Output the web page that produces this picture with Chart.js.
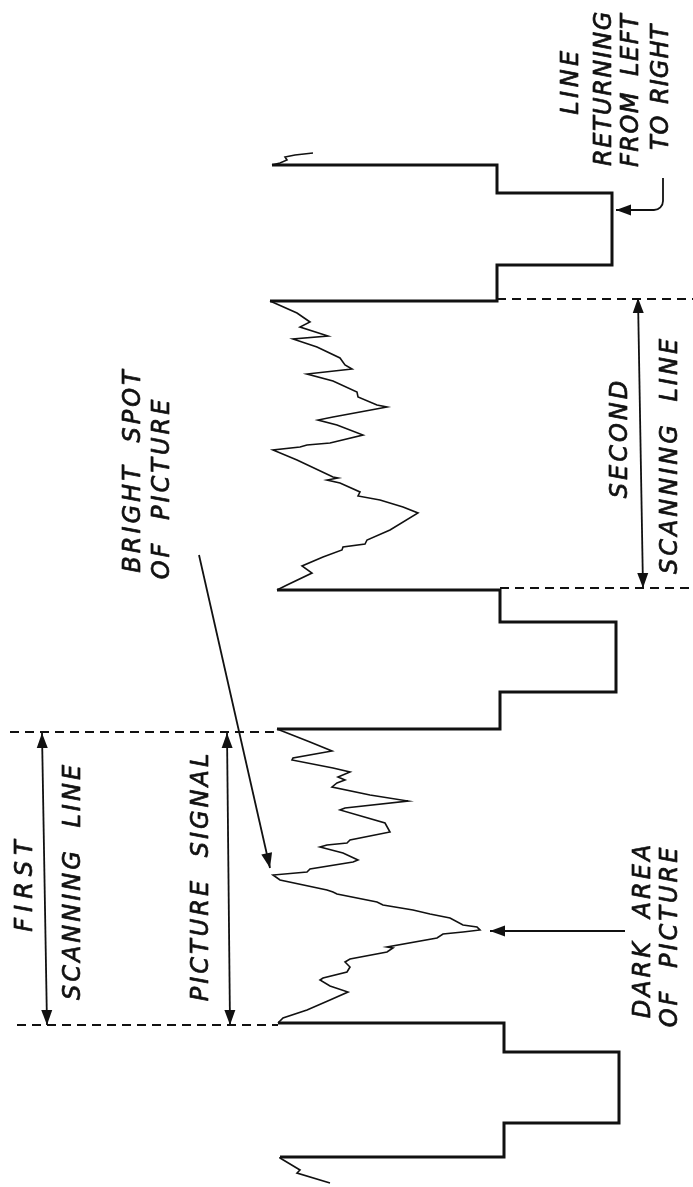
<!DOCTYPE html>
<html>
<head>
<meta charset="utf-8">
<title>Scanning line signal</title>
<script src="https://cdn.jsdelivr.net/npm/chart.js@4.4.1/dist/chart.umd.min.js"></script>
<style>
  html, body { margin: 0; padding: 0; background: #fff; overflow: hidden; }
  canvas { display: block; }
</style>
</head>
<body>
<canvas id="signal" width="693" height="1187"></canvas>
<script>
// time runs up the page, signal level runs across it (sync pulses to the right)
const leadInTime  = [4, 14, 17, 29, 30];
const leadInLevel = [330, 297, 300, 280, 280];

// picture signal of the first scanning line
const line1Time  = [164, 169, 177, 187, 195, 201, 207, 209, 215, 220, 225, 228, 235, 239, 240, 249, 253, 255, 257, 260,
                    262, 269, 273, 277, 282, 285, 293, 295, 297, 307, 312, 315, 318, 325, 327, 334, 340, 342, 344, 347,
                    355, 364, 377, 379, 386, 392, 400, 404, 407, 410, 415, 419, 427, 429, 436, 445, 458];
const line1Level = [278, 283, 307, 330, 348, 330, 320, 323, 347, 350, 345, 350, 387, 393, 387, 437, 443, 463, 480, 477,
                    463, 450, 430, 413, 383, 377, 337, 333, 327, 280, 273, 307, 310, 353, 358, 343, 320, 327, 347, 350,
                    390, 385, 340, 345, 408, 370, 332, 337, 345, 338, 350, 333, 292, 293, 332, 310, 277];

// picture signal of the second scanning line
const line2Time  = [597, 602, 614, 621, 630, 637, 640, 643, 647, 657, 674, 680, 687, 691, 695, 704, 707, 709, 710, 727,
                    737, 740, 742, 744, 752, 762, 767, 770, 780, 782, 790, 795, 806, 813, 818, 822, 829, 840, 848, 851,
                    860, 865, 874, 886];
const line2Level = [277, 287, 312, 302, 323, 342, 343, 365, 367, 390, 418, 403, 380, 358, 360, 340, 327, 338, 333, 297,
                    273, 300, 307, 330, 363, 337, 318, 333, 387, 377, 358, 357, 333, 307, 352, 345, 340, 317, 293, 328,
                    300, 310, 297, 270];

const tailTime  = [1022, 1024, 1027, 1030, 1032, 1034];
const tailLevel = [272, 280, 287, 285, 295, 313];

// blanking + sync pulses between the lines
const pulseStart     = [30, 458, 886];
const syncStart      = [64, 495, 922];
const syncEnd        = [135, 565, 994];
const pulseEnd       = [164, 597, 1022];
const entryLevel     = [280, 277, 270];
const exitLevel      = [278, 277, 272];
const pedestalLevel  = [504, 500, 497];
const syncTipLevel   = [619, 616, 612];

const ink = '#111';

function zip(times, levels) {
  return times.map((t, i) => ({ x: levels[i], y: t }));
}

function pulsePoints(i) {
  return [
    { x: entryLevel[i], y: pulseStart[i] },
    { x: pedestalLevel[i], y: pulseStart[i] },
    { x: pedestalLevel[i], y: syncStart[i] },
    { x: syncTipLevel[i], y: syncStart[i] },
    { x: syncTipLevel[i], y: syncEnd[i] },
    { x: pedestalLevel[i], y: syncEnd[i] },
    { x: pedestalLevel[i], y: pulseEnd[i] },
    { x: exitLevel[i], y: pulseEnd[i] }
  ];
}

function thin(points) {
  return { data: points, showLine: true, borderColor: ink, borderWidth: 1.6, pointRadius: 0 };
}
function thick(points) {
  return { data: points, showLine: true, borderColor: ink, borderWidth: 3, pointRadius: 0 };
}

// annotations, in the same units as the data (level, time)
const dashedLines = [
  { t: 455, from: 10, to: 277 },
  { t: 162, from: 17, to: 278 },
  { t: 599, from: 500, to: 693 },
  { t: 888, from: 497, to: 693 }
];
const spanArrows = [
  { a: [42, 454], b: [47, 162] },
  { a: [227, 454], b: [230, 162] },
  { a: [638, 889], b: [643, 599] }
];
const pointers = [
  { path: [[199, 632], [270, 319]] },
  { path: [[625, 256], [490, 256]] },
  { path: [[663, 1009], [663, 977], [616, 977]], round: 9 }
];
const labels = [
  { text: 'FIRST', level: 23, t: 304, spacing: 6 },
  { text: 'SCANNING LINE', level: 71, t: 306 },
  { text: 'PICTURE SIGNAL', level: 199, t: 311 },
  { text: 'BRIGHT SPOT', level: 131, t: 717 },
  { text: 'OF PICTURE', level: 160, t: 699 },
  { text: 'DARK AREA', level: 641, t: 257 },
  { text: 'OF PICTURE', level: 668, t: 251 },
  { text: 'SECOND', level: 618, t: 749 },
  { text: 'SCANNING LINE', level: 668, t: 732 },
  { text: 'LINE', level: 569, t: 1106, spacing: 3.5 },
  { text: 'RETURNING', level: 602, t: 1099, spacing: 1.5 },
  { text: 'FROM LEFT', level: 629, t: 1097, spacing: 1.5, words: 6 },
  { text: 'TO RIGHT', level: 659, t: 1100, spacing: 1, words: 2 }
];

function head(ctx, fx, fy, tx, ty) {
  const ang = Math.atan2(ty - fy, tx - fx);
  const len = 15, half = 5.5;
  const bx = tx - len * Math.cos(ang), by = ty - len * Math.sin(ang);
  ctx.beginPath();
  ctx.moveTo(tx, ty);
  ctx.lineTo(bx - half * Math.sin(ang), by + half * Math.cos(ang));
  ctx.lineTo(bx + half * Math.sin(ang), by - half * Math.cos(ang));
  ctx.closePath();
  ctx.fill();
}

const annotate = {
  id: 'annotate',
  afterDatasetsDraw(chart) {
    const { ctx, scales: { x, y } } = chart;
    const px = v => x.getPixelForValue(v);
    const py = v => y.getPixelForValue(v);
    ctx.save();
    ctx.strokeStyle = ink;
    ctx.fillStyle = ink;

    ctx.lineWidth = 2.2;
    ctx.setLineDash([9, 6]);
    dashedLines.forEach(d => {
      ctx.beginPath();
      ctx.moveTo(px(d.from), py(d.t));
      ctx.lineTo(px(d.to), py(d.t));
      ctx.stroke();
    });
    ctx.setLineDash([]);

    ctx.lineWidth = 1.8;
    spanArrows.forEach(s => {
      const ax = px(s.a[0]), ay = py(s.a[1]), bx = px(s.b[0]), by = py(s.b[1]);
      ctx.beginPath();
      ctx.moveTo(ax, ay);
      ctx.lineTo(bx, by);
      ctx.stroke();
      head(ctx, bx, by, ax, ay);
      head(ctx, ax, ay, bx, by);
    });

    pointers.forEach(p => {
      const pts = p.path.map(q => [px(q[0]), py(q[1])]);
      ctx.beginPath();
      ctx.moveTo(pts[0][0], pts[0][1]);
      for (let i = 1; i < pts.length; i++) {
        if (p.round && i < pts.length - 1) {
          ctx.arcTo(pts[i][0], pts[i][1], pts[i + 1][0], pts[i + 1][1], p.round);
        } else {
          ctx.lineTo(pts[i][0], pts[i][1]);
        }
      }
      ctx.stroke();
      const a = pts[pts.length - 2], b = pts[pts.length - 1];
      head(ctx, a[0], a[1], b[0], b[1]);
    });

    // hand lettering: oblique caps, drawn a touch heavier than the font
    const size = 24;
    ctx.font = 'italic ' + size + 'px "DejaVu Sans"';
    ctx.textAlign = 'center';
    ctx.textBaseline = 'alphabetic';
    ctx.lineWidth = 0.7;
    ctx.lineJoin = 'round';
    labels.forEach(l => {
      ctx.save();
      ctx.translate(px(l.level), py(l.t));
      ctx.rotate(-Math.PI / 2);
      ctx.letterSpacing = (l.spacing || 3) + 'px';
      ctx.wordSpacing = (l.words !== undefined ? l.words : 10) + 'px';
      ctx.fillText(l.text, 0, size * 0.73 / 2);
      ctx.strokeText(l.text, 0, size * 0.73 / 2);
      ctx.restore();
    });
    ctx.restore();
  }
};

const datasets = [
  thin(zip(leadInTime, leadInLevel)),
  thick(pulsePoints(0)),
  thin(zip(line1Time, line1Level)),
  thick(pulsePoints(1)),
  thin(zip(line2Time, line2Level)),
  thick(pulsePoints(2)),
  thin(zip(tailTime, tailLevel))
];

new Chart(document.getElementById('signal'), {
  type: 'scatter',
  data: { datasets },
  options: {
    responsive: false,
    animation: false,
    events: [],
    layout: { padding: 0, autoPadding: false },
    elements: {
      line: { tension: 0, borderJoinStyle: 'miter', borderCapStyle: 'butt', fill: false }
    },
    plugins: { legend: { display: false }, tooltip: { enabled: false } },
    scales: {
      x: { type: 'linear', min: 0, max: 693, display: false },
      y: { type: 'linear', min: 0, max: 1187, display: false }
    }
  },
  plugins: [annotate]
});
</script>
</body>
</html>
